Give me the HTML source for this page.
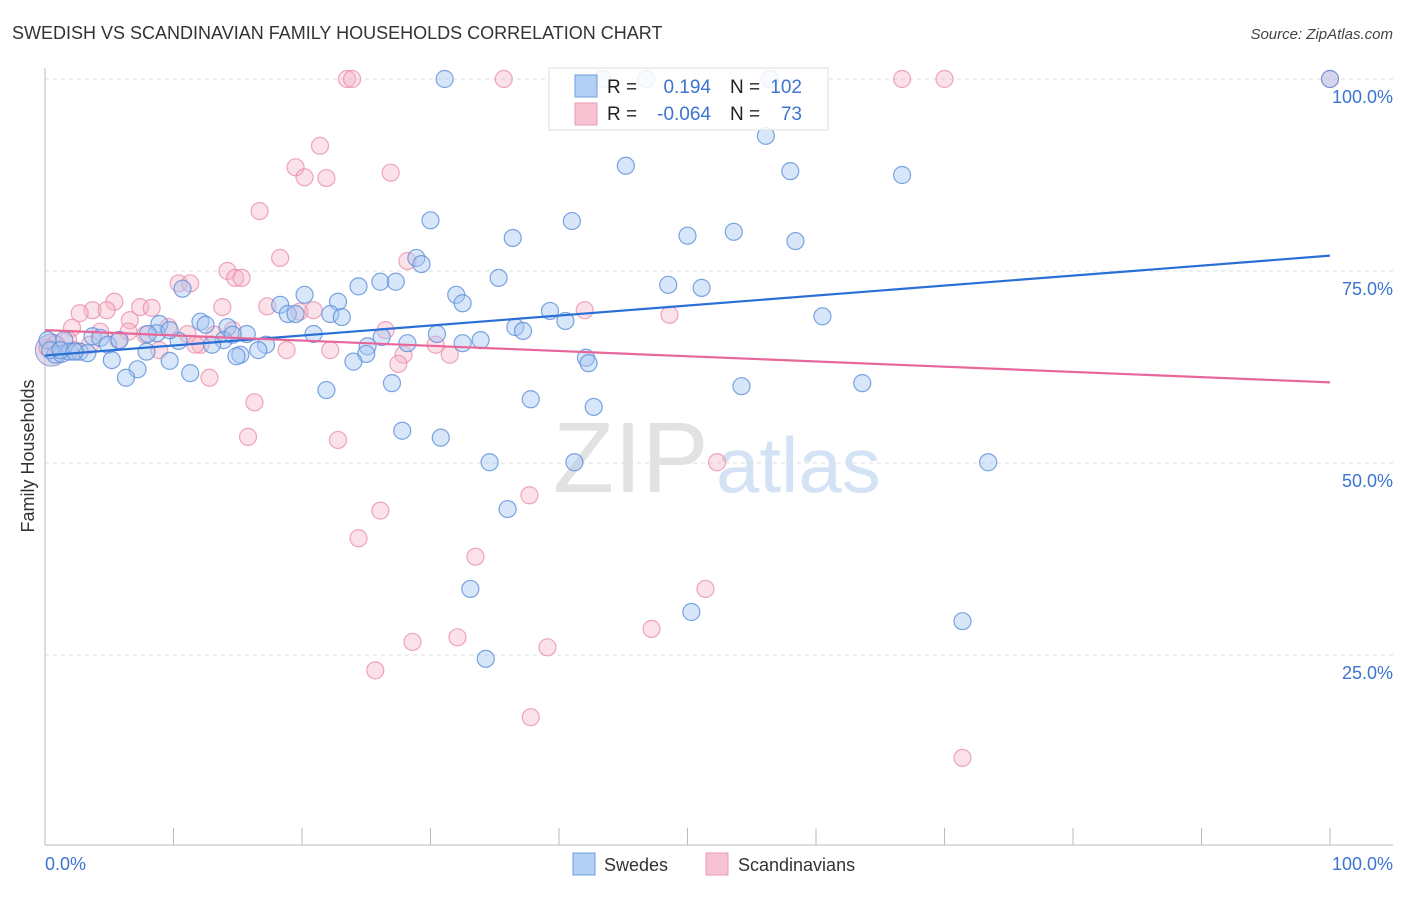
<!DOCTYPE html>
<html><head><meta charset="utf-8"><style>
body{margin:0;background:#fff;font-family:"Liberation Sans",sans-serif;}
svg text{font-family:"Liberation Sans",sans-serif;}
</style></head><body>
<svg id="chart" width="1406" height="892" xmlns="http://www.w3.org/2000/svg">
<text x="12" y="39" font-size="18" fill="#333">SWEDISH VS SCANDINAVIAN FAMILY HOUSEHOLDS CORRELATION CHART</text>
<text x="1393" y="39" font-size="15" fill="#444" font-style="italic" text-anchor="end">Source: ZipAtlas.com</text>
<g>
<text x="553" y="492" font-size="100" font-family="Liberation Serif,serif" fill="#e2e2e2">ZIP</text>
<text x="716" y="492" font-size="78" fill="#d3e3f5">atlas</text>
</g>
<g id="grid"></g>
<g id="axes"></g>
<g id="pts"></g>
<g id="trend"></g>
<text transform="translate(34,456) rotate(-90)" font-size="18" fill="#333" text-anchor="middle">Family Households</text>
<g>
<rect x="549" y="68" width="279" height="62" fill="#fff" fill-opacity="0.85" stroke="#ddd"/>
<rect x="575" y="75" width="22" height="22" fill="#b3cff5" stroke="#6c9de0"/>
<rect x="575" y="103" width="22" height="22" fill="#f7c3d2" stroke="#ea9bb5"/>
<text x="607" y="93" font-size="19" fill="#222">R =</text>
<text x="711" y="93" font-size="19" fill="#3b74d1" text-anchor="end">0.194</text>
<text x="730" y="93" font-size="19" fill="#222">N =</text>
<text x="802" y="93" font-size="19" fill="#3b74d1" text-anchor="end">102</text>
<text x="607" y="120" font-size="19" fill="#222">R =</text>
<text x="711" y="120" font-size="19" fill="#3b74d1" text-anchor="end">-0.064</text>
<text x="730" y="120" font-size="19" fill="#222">N =</text>
<text x="802" y="120" font-size="19" fill="#3b74d1" text-anchor="end">73</text>
</g>
<g>
<rect x="573" y="853" width="22" height="22" fill="#b3cff5" stroke="#6c9de0"/>
<text x="604" y="871" font-size="18" fill="#333">Swedes</text>
<rect x="706" y="853" width="22" height="22" fill="#f7c3d2" stroke="#ea9bb5"/>
<text x="738" y="871" font-size="18" fill="#333">Scandinavians</text>
</g>
</svg>
<script>
const yTicks=[25,50,75,100];
const yTickLabels=["25.0%","50.0%","75.0%","100.0%"];
const xTickVals=[0,10,20,30,40,50,60,70,80,90,100];
const blueX=[31.1,43.4,46.8,56.4,100,45.2,56.1,58.0,66.7,30.0,41.0,36.4,50.0,53.6,58.4,28.9,29.3,35.3,26.1,27.3,24.4,22.8,32.0,32.5,48.5,51.1,10.7,20.2,18.3,18.9,19.5,22.2,23.1,39.3,40.5,60.5,36.6,37.2,30.5,12.1,12.5,14.2,15.7,20.9,26.2,28.2,32.5,33.9,8.9,8.7,3.7,4.3,1.5,4.9,8.0,10.4,13.9,13.0,17.2,16.6,15.2,14.9,25.1,25.0,7.9,5.2,0.8,1.3,1.9,2.7,3.3,11.3,9.7,7.2,6.3,21.9,27.0,42.1,42.3,24.0,54.2,63.6,37.8,42.7,27.8,30.8,34.6,41.2,73.4,36.0,33.1,50.3,71.4,34.3,0.2,0.4,1.2,2.3,14.6,5.8,9.7];
const blueY=[100,100,100,100,100,88.7,92.6,88.0,87.5,81.6,81.5,79.3,79.6,80.1,78.9,76.7,75.9,74.1,73.6,73.6,73.0,71.0,71.9,70.8,73.2,72.8,72.7,71.9,70.6,69.4,69.4,69.4,69.0,69.8,68.5,69.1,67.7,67.2,66.8,68.4,68.0,67.7,66.8,66.8,66.4,65.6,65.6,66.0,68.1,66.9,66.5,66.3,66.0,65.4,66.8,65.9,66.0,65.4,65.4,64.7,64.1,63.9,65.2,64.2,64.5,63.4,64.1,64.2,64.5,64.5,64.3,61.7,63.3,62.2,61.1,59.5,60.4,63.7,63.0,63.2,60.0,60.4,58.3,57.3,54.2,53.3,50.1,50.1,50.1,44.0,33.6,30.6,29.4,24.5,66.0,64.7,64.7,64.5,66.7,66.0,67.3];
const pinkX=[23.5,23.9,35.7,66.7,70.0,100,21.4,19.5,20.2,21.9,26.9,16.7,18.3,28.2,14.2,14.8,15.3,10.4,11.3,17.3,19.8,20.9,13.8,7.4,8.3,5.4,3.7,4.8,2.7,6.6,2.1,4.3,6.5,7.8,9.6,11.1,13.2,14.6,12.1,11.7,5.7,1.8,0.8,0.2,18.8,22.2,30.4,31.5,27.9,27.5,42.0,48.6,12.8,16.3,15.8,22.8,52.3,37.7,26.1,24.4,33.5,51.4,47.2,28.6,32.1,39.1,25.7,37.8,71.4,2.3,3.5,8.9,26.5];
const pinkY=[100,100,100,100,100,100,91.3,88.5,87.2,87.1,87.8,82.8,76.7,76.3,75.0,74.1,74.1,73.4,73.4,70.4,69.7,69.9,70.3,70.3,70.2,71.0,69.9,69.9,69.5,68.6,67.6,67.1,67.1,66.7,67.7,66.8,66.7,67.3,65.4,65.4,66.0,66.0,65.5,65.0,64.7,64.7,65.4,64.1,64.1,62.9,69.9,69.3,61.1,57.9,53.4,53.0,50.1,45.8,43.8,40.2,37.8,33.6,28.4,26.7,27.3,26.0,23.0,16.9,11.6,64.7,65.4,64.7,67.3];
const blueTrend=[64.0,77.0];
const pinkTrend=[67.3,60.5];

const NS="http://www.w3.org/2000/svg";
const X0=45,X1=1330,Y0=847,Y100=79;
function sx(v){return X0+(X1-X0)*v/100;}
function sy(v){return Y0-(Y0-Y100)*v/100;}
function mk(tag,attrs,parent){const e=document.createElementNS(NS,tag);for(const k in attrs)e.setAttribute(k,attrs[k]);parent.appendChild(e);return e;}
const grid=document.getElementById('grid'),axes=document.getElementById('axes'),pts=document.getElementById('pts'),trend=document.getElementById('trend');
yTicks.forEach((t,i)=>{
  const l=mk('line',{x1:X0,x2:1393,y1:sy(t),y2:sy(t),stroke:'#ddd','stroke-dasharray':'4,4'},grid);
  
  
  const tx=mk('text',{x:1393,y:sy(t)+24,'font-size':18,fill:'#3b74d1','text-anchor':'end'},axes);
  tx.textContent=yTickLabels[i];
  
  
});
const ya=mk('line',{x1:X0,x2:X0,y1:68,y2:845,stroke:'#bbb'},axes);


const xa=mk('line',{x1:X0,x2:1393,y1:845,y2:845,stroke:'#bbb'},axes);


xTickVals.forEach(v=>{
  const t=mk('line',{x1:sx(v),x2:sx(v),y1:828,y2:845,stroke:'#bbb'},axes);
  
  
});
const xl0=mk('text',{x:X0,y:870,'font-size':18,fill:'#3b74d1'},axes);xl0.textContent='0.0%';


const xl1=mk('text',{x:1393,y:870,'font-size':18,fill:'#3b74d1','text-anchor':'end'},axes);xl1.textContent='100.0%';


function big(fill,stroke){const c=mk('circle',{cx:sx(0.5),cy:sy(64.7),r:16,fill:fill,'fill-opacity':0.35,stroke:stroke,'stroke-opacity':0.6},pts);

}
big('#f4b3c6','#e88aa8');big('#a9c8f2','#5b8fd9');
pinkX.forEach((x,i)=>{
  const c=mk('circle',{cx:sx(x),cy:sy(pinkY[i]),r:8.5,fill:'#f4b3c6','fill-opacity':0.4,stroke:'#e88aa8','stroke-opacity':0.75,'stroke-width':1.2},pts);
  
  
});
blueX.forEach((x,i)=>{
  const c=mk('circle',{cx:sx(x),cy:sy(blueY[i]),r:8.5,fill:'#a9c8f2','fill-opacity':0.45,stroke:'#5b8fd9','stroke-opacity':0.8,'stroke-width':1.2},pts);
  
  
});
const bl=mk('line',{x1:sx(0),x2:sx(100),y1:sy(blueTrend[0]),y2:sy(blueTrend[1]),stroke:'#2a6fd6','stroke-width':2.2},trend);


const pl=mk('line',{x1:sx(0),x2:sx(100),y1:sy(pinkTrend[0]),y2:sy(pinkTrend[1]),stroke:'#e8679a','stroke-width':2.2},trend);


</script>
</body></html>
